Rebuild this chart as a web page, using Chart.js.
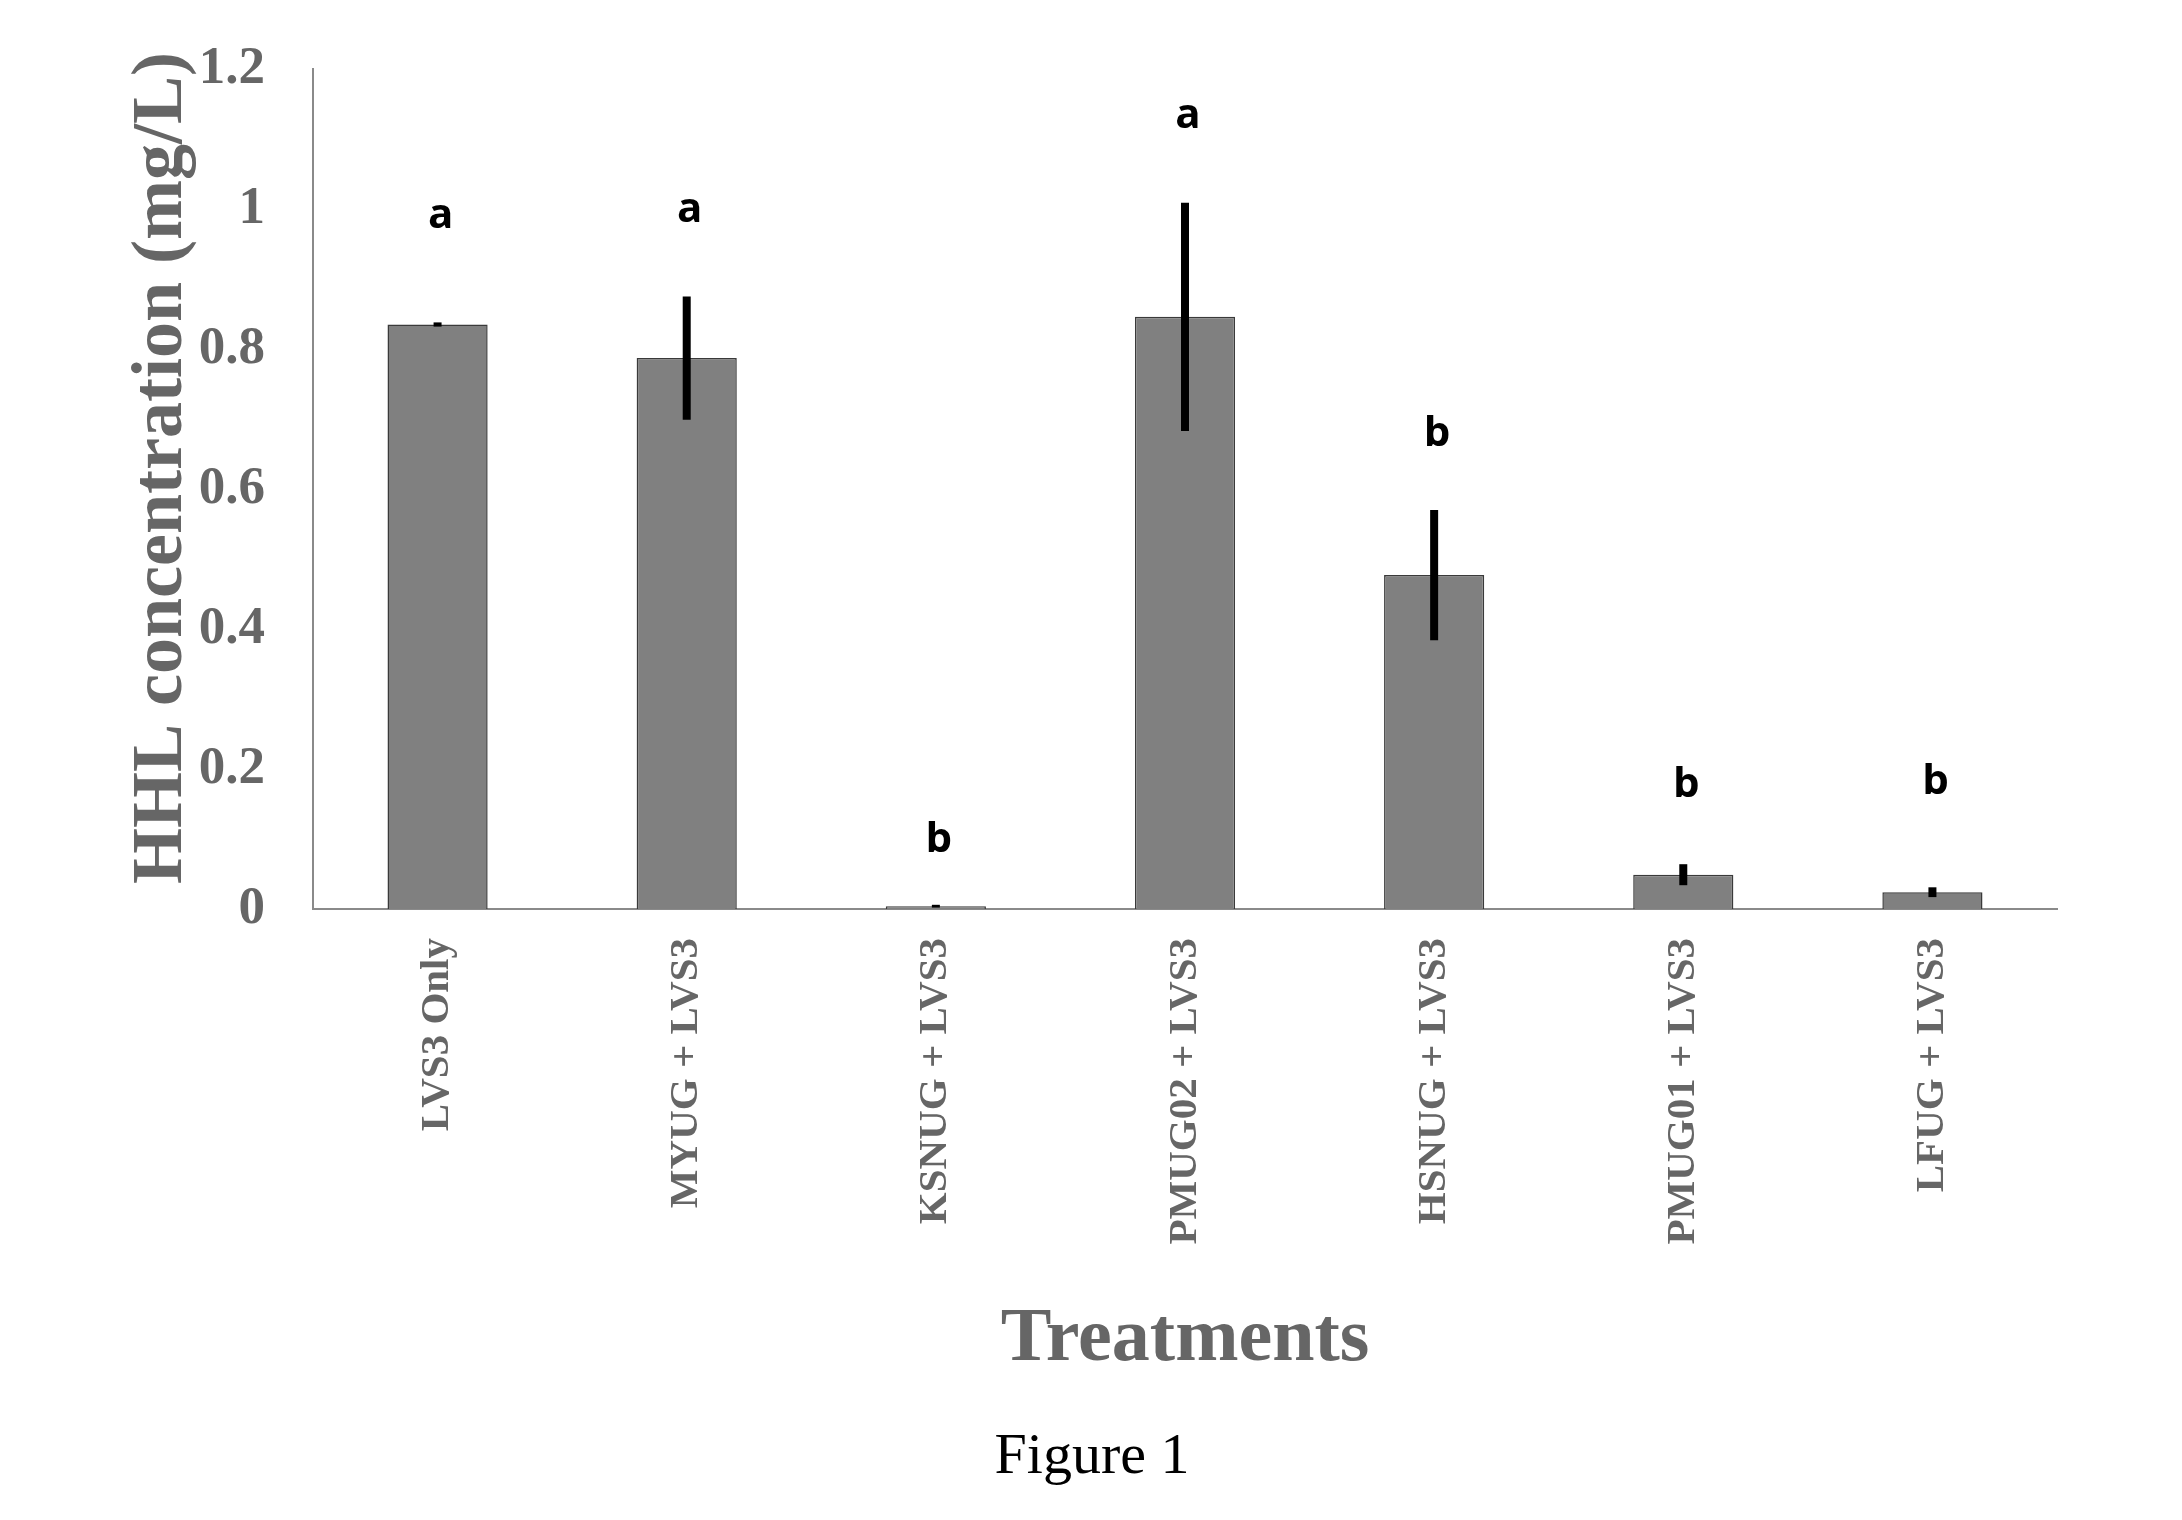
<!DOCTYPE html>
<html>
<head>
<meta charset="utf-8">
<script src="https://cdn.jsdelivr.net/npm/chart.js@4/dist/chart.umd.min.js"></script>
<style>
  html, body { margin: 0; padding: 0; background: #fff; }
  #wrap { width: 2182px; height: 1520px; }
</style>
</head>
<body>
<div id="wrap"><canvas id="hhlChart" width="2182" height="1520"></canvas></div>
<script>
/* ================= DATA ================= */
const treatments = ['LVS3 Only', 'MYUG + LVS3', 'KSNUG + LVS3', 'PMUG02 + LVS3', 'HSNUG + LVS3', 'PMUG01 + LVS3', 'LFUG + LVS3'];
const hhlMeans = [0.835, 0.787, 0.004, 0.846, 0.477, 0.049, 0.024];
const hhlErrors = [0.003, 0.088, 0.002, 0.163, 0.093, 0.015, 0.007];
const groupLetters = ['a', 'a', 'b', 'a', 'b', 'b', 'b'];
const letterLevels = [0.973, 0.981, 0.081, 1.116, 0.661, 0.160, 0.164];
const yTicks = [0, 0.2, 0.4, 0.6, 0.8, 1, 1.2];

const serif = "'Liberation Serif', 'Times New Roman', serif";
const greyText = '#666666';

/* ================= ERROR BARS + LETTERS ================= */
const extrasPlugin = {
    id: 'extras',
    afterDatasetsDraw(chart) {
        const { ctx, scales: { x, y } } = chart;
        ctx.save();
        ctx.strokeStyle = '#000';
        ctx.lineWidth = 8;
        ctx.lineCap = 'butt';
        hhlMeans.forEach((m, i) => {
            const px = x.getPixelForValue(i);
            ctx.beginPath();
            ctx.moveTo(px, y.getPixelForValue(m + hhlErrors[i]));
            ctx.lineTo(px, y.getPixelForValue(Math.max(0, m - hhlErrors[i])));
            ctx.stroke();
        });
        ctx.fillStyle = '#000';
        ctx.font = "bold 42px 'Open Sans', sans-serif";
        ctx.textAlign = 'center';
        ctx.textBaseline = 'alphabetic';
        groupLetters.forEach((t, i) => {
            ctx.fillText(t, x.getPixelForValue(i) + 3, y.getPixelForValue(letterLevels[i]));
        });
        ctx.restore();
    },
    afterDraw(chart) {
        const { ctx } = chart;
        ctx.save();
        // y title
        ctx.fillStyle = greyText;
        ctx.font = 'bold 72px ' + serif;
        ctx.textAlign = 'center';
        ctx.textBaseline = 'alphabetic';
        ctx.translate(181, 468);
        ctx.rotate(-Math.PI / 2);
        ctx.fillText('HHL concentration (mg/L)', 0, 0);
        ctx.restore();

        ctx.save();
        ctx.fillStyle = greyText;
        ctx.font = 'bold 76px ' + serif;
        ctx.textAlign = 'center';
        ctx.textBaseline = 'alphabetic';
        ctx.fillText('Treatments', 1185, 1360);
        ctx.fillStyle = '#000';
        ctx.font = '58px ' + serif;
        ctx.fillText('Figure 1', 1092, 1473);
        ctx.restore();
    }
};

/* ================= CHART ================= */
const ctxHHL = document.getElementById('hhlChart').getContext('2d');

const hhlChart = new Chart(ctxHHL, {
    type: 'bar',
    data: {
        labels: treatments,
        datasets: [{
            data: hhlMeans,
            backgroundColor: '#808080',
            borderColor: '#3a3a3a',
            borderWidth: 1.5,
            barPercentage: 0.402,
            categoryPercentage: 1
        }]
    },
    options: {
        responsive: false,
        animation: false,
        layout: { padding: { top: 69, right: 125, left: 0, bottom: 0 } },
        plugins: {
            legend: { display: false },
            tooltip: { enabled: false }
        },
        scales: {
            x: {
                grid: { display: false, drawTicks: false },
                border: { color: '#8a8a8a', width: 2 },
                ticks: {
                    autoSkip: false,
                    minRotation: 90,
                    maxRotation: 90,
                    padding: 29,
                    color: greyText,
                    font: { family: serif, size: 41, weight: 'bold' }
                },
                afterFit: s => { s.height = 611; s.paddingTop = 0; s.paddingBottom = 0; }
            },
            y: {
                min: 0,
                max: 1.2,
                grid: { display: false, drawTicks: false },
                border: { color: '#8a8a8a', width: 2 },
                afterBuildTicks: s => { s.ticks = yTicks.map(v => ({ value: v })); },
                ticks: {
                    padding: 48,
                    color: greyText,
                    font: { family: serif, size: 53, weight: 'bold' },
                    callback: v => String(Math.round(v * 10) / 10)
                },
                afterFit: s => { s.width = 313; s.paddingTop = 0; s.paddingBottom = 0; }
            }
        }
    },
    plugins: [extrasPlugin]
});
</script>
</body>
</html>
